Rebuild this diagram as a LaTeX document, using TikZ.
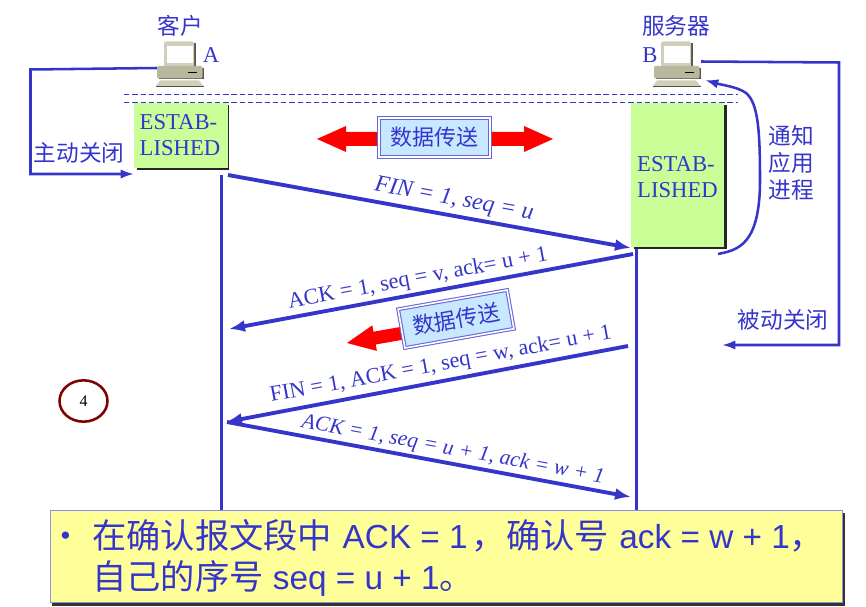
\documentclass[tikz,border=0pt]{standalone}
\usepackage{fontspec}
\usetikzlibrary{arrows.meta,shapes.geometric}
\setmainfont{Liberation Serif}
\setsansfont{Liberation Sans}
\newfontfamily\cjk{Noto Sans CJK SC}
\definecolor{ink}{HTML}{3535CC}
\definecolor{estab}{HTML}{C9FF96}
\definecolor{skyfill}{HTML}{C8E8FF}
\definecolor{notefill}{HTML}{FFFF99}
\definecolor{pcbody}{HTML}{B8B89E}
\definecolor{pclight}{HTML}{CFCFBA}
\definecolor{pcdark}{HTML}{55554A}
\tikzset{
  x=0.75pt,y=-0.75pt,
  label cjk/.style={text=ink,font=\cjk\fontsize{17}{20.2}\selectfont,inner sep=0pt,align=center},
  label latin/.style={text=ink,font=\fontsize{17}{19.5}\selectfont,inner sep=0pt,align=left},
  seglabel/.style={text=ink,inner sep=0pt},
  heavy/.style={draw=ink,line width=2.9pt,-{Latex[length=12pt,width=9pt]}},
  medium/.style={draw=ink,line width=1.9pt},
  timeline/.style={draw=ink,line width=1.9pt},
  dashrule/.style={draw=ink,line width=0.6pt,dash pattern=on 4pt off 2.2pt},
  estabbox/.style={fill=estab,inner sep=0pt,anchor=north west,text=ink},
  databox/.style={draw=ink!75,double=white,double distance=1.2pt,line width=0.8pt,fill=skyfill,
    text=ink,font=\cjk\fontsize{16.5}{20}\selectfont,minimum width=83pt,minimum height=29.5pt,inner sep=0pt},
  redarrow/.style={fill=red,draw=none},
  pc/.pic={
    \fill[pcdark] (10,3) -- (39,3) -- (39,27) -- (10,27) -- cycle;
    \fill[pclight,rounded corners=1.5pt] (7,1.5) -- (37,1.5) -- (37,27) -- (7,27) -- cycle;
    \fill[white] (10,6) rectangle (35.5,23.5);
    \fill[pcdark] (2,28) rectangle (47,39.5);
    \fill[pcbody,rounded corners=1pt] (0,26) -- (45.5,26) -- (45.5,38.5) -- (0,38.5) -- cycle;
    \draw[black,line width=0.6pt] (31,32.5) -- (40,32.5);
    \fill[pclight] (3,40.5) -- (42,40.5) -- (46.5,46) -- (-1,46) -- cycle;
    \draw[pcdark,line width=0.8pt] (-1,46.5) -- (46.5,46.5);
  }
}
\begin{document}
\begin{tikzpicture}
\useasboundingbox (0,0) rectangle (866,606);
% timelines
\coordinate (atop) at (221.5,175); \coordinate (abot) at (221.5,512);
\coordinate (btop) at (636.5,247); \coordinate (bbot) at (636.5,512);
\draw[timeline] (atop) -- (abot);
\draw[timeline] (btop) -- (bbot);
% dashed
\coordinate (d1a) at (124,94.5); \coordinate (d1b) at (738,94.5);
\coordinate (d2a) at (124,102.5); \coordinate (d2b) at (738,102.5);
\draw[dashrule] (d1a) -- (d1b);
\draw[dashrule] (d2a) -- (d2b);
% computers
\pic (pca) at (157,40) {pc};
\pic (pcb) at (654,40) {pc};
\node[label cjk] (client) at (180.5,26) {客户};
\node[label cjk] (server) at (676,26) {服务器};
\node[label latin] (nameA) at (211,55.5) {A};
\node[label latin] (nameB) at (650,55.5) {B};
% state boxes
\fill[black!85] (136.5,105) rectangle (229,170);
\node[estabbox,minimum width=70.1pt,minimum height=48.75pt] (esta) at (134,103) {};
\node[label latin] (estatext) at (180,135) {ESTAB-\\LISHED};
\fill[black!85] (633.5,105) rectangle (726.5,249);
\node[estabbox,minimum width=69.75pt,minimum height=108pt] (estb) at (631,103) {};
\node[label latin] (estbtext) at (677.5,177.5) {ESTAB-\\LISHED};
% data transfer top
\fill[redarrow] (317,139) -- (346,126) -- (346,132) -- (379,132) -- (379,146) -- (346,146) -- (346,152) -- cycle;
\fill[redarrow] (553,139) -- (524,126) -- (524,132) -- (491,132) -- (491,146) -- (524,146) -- (524,152) -- cycle;
\node[databox] (data1) at (434.5,137.5) {数据传送};
% data transfer middle
\fill[redarrow] (347,343) -- (376.9,350.9) -- (375.7,344.5) -- (405.2,339.3) -- (403,326.5) -- (373.5,331.7) -- (372.3,325.3) -- cycle;
\node[databox,rotate=10] (data2) at (456,319) {数据传送};
% side connectors
\coordinate (aout) at (157,68); \coordinate (acorner1) at (30.5,69.5); \coordinate (acorner2) at (30.5,174); \coordinate (ain) at (134,174);
\draw[medium,-{Latex[length=10pt,width=7pt]}] (aout) -- (acorner1) -- (acorner2) -- (ain);
\coordinate (bout) at (701,61.5); \coordinate (bcorner1) at (839,62.5); \coordinate (bcorner2) at (839,345); \coordinate (bin) at (722,345);
\draw[medium,-{Latex[length=10pt,width=7pt]}] (bout) -- (bcorner1) -- (bcorner2) -- (bin);
\coordinate (notifys) at (718,254); \coordinate (notifyt) at (705,80);
\draw[medium,-{Latex[length=10pt,width=7pt]}] (notifys) .. controls (738,250) and (760,245) .. (760,180)
  .. controls (760,130) and (758,103) .. (746,93) .. controls (738,87) and (722,85) .. (notifyt);
\node[label cjk] (closeA) at (79,153) {主动关闭};
\node[label cjk] (closeB) at (783,319.5) {被动关闭};
\node[label cjk] (notifytext) at (791,163) {通知\\应用\\进程};
% segments
\coordinate (s1a) at (228,175); \coordinate (s1b) at (631,248);
\coordinate (s2a) at (633,254); \coordinate (s2b) at (229,329);
\coordinate (s3a) at (628,346); \coordinate (s3b) at (226,422);
\coordinate (s4a) at (227,422); \coordinate (s4b) at (631,497);
\draw[heavy] (s1a) -- (s1b);
\draw[heavy] (s2a) -- (s2b);
\draw[heavy] (s3a) -- (s3b);
\draw[heavy] (s4a) -- (s4b);
\node[seglabel,rotate=-10.5,font=\itshape\fontsize{17.8}{20}\selectfont] (l1) at (454,200) {FIN = 1, seq = u};
\node[seglabel,rotate=10.5,font=\fontsize{16.8}{20}\selectfont] (l2) at (418,279) {ACK = 1, seq = v, ack= u + 1};
\node[seglabel,rotate=10.5,font=\fontsize{16.6}{20}\selectfont] (l3) at (441,365) {FIN = 1, ACK = 1, seq = w, ack= u + 1};
\node[seglabel,rotate=-10.5,font=\itshape\fontsize{16.2}{20}\selectfont] (l4) at (453,450) {ACK = 1, seq = u + 1, ack = w + 1};
% step circle
\node[draw=red!50!black,line width=1.9pt,ellipse,minimum width=36pt,minimum height=31pt,inner sep=0pt,font=\fontsize{12}{14}\selectfont] (step4) at (83.5,401) {4};
% note
\fill[black!80] (52,513) rectangle (844.5,606);
\node[draw=ink!55,line width=0.7pt,fill=notefill,anchor=north west,minimum width=594pt,minimum height=69pt,inner sep=0pt] (note) at (50,510) {};
\node[text=ink,font=\sffamily\fontsize{20}{20}\selectfont,inner sep=0pt] (bullet) at (65.5,538) {•};
\node[text=ink,font=\sffamily\fontsize{25}{30.6}\selectfont,inner sep=0pt,anchor=west,align=left] (notetext) at (92,558)
 {{\cjk\fontsize{25.7}{30.6}\selectfont 在确认报文段中}\hspace{1pt} ACK = 1\hspace{3pt}{\cjk\fontsize{25.7}{30.6}\selectfont ，确认号}\hspace{1pt} ack = w + 1{\cjk\fontsize{25.7}{30.6}\selectfont ，}\\{\cjk\fontsize{25.7}{30.6}\selectfont 自己的序号} seq = u + 1{\cjk\fontsize{25.7}{30.6}\selectfont 。}};
\end{tikzpicture}
\end{document}
